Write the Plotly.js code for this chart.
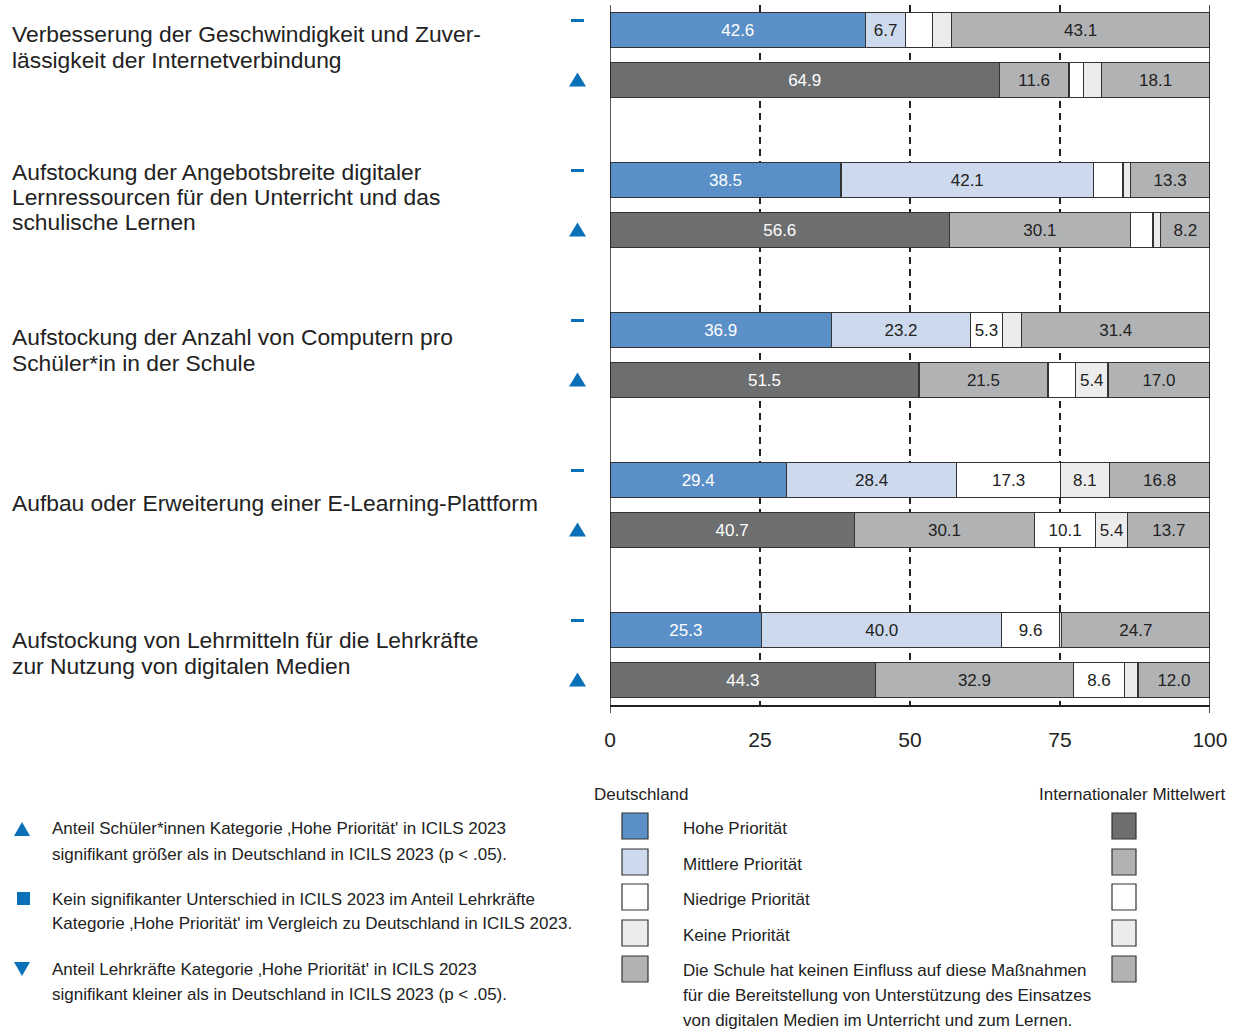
<!DOCTYPE html>
<html><head><meta charset="utf-8">
<script src="https://cdn.plot.ly/plotly-3.0.1.min.js"></script>
<style>html,body{margin:0;padding:0;background:#fff}#chart{width:1242px;height:1029px}</style>
</head><body><div id="chart"></div>
<script>
// ---------- DATA ----------
const topics = [
  ["Verbesserung der Geschwindigkeit und Zuver-", "lässigkeit der Internetverbindung"],
  ["Aufstockung der Angebotsbreite digitaler", "Lernressourcen für den Unterricht und das", "schulische Lernen"],
  ["Aufstockung der Anzahl von Computern pro", "Schüler*in in der Schule"],
  ["Aufbau oder Erweiterung einer E-Learning-Plattform"],
  ["Aufstockung von Lehrmitteln für die Lehrkräfte", "zur Nutzung von digitalen Medien"]
];
const categoryNames = ["Hohe Priorität", "Mittlere Priorität", "Niedrige Priorität", "Keine Priorität",
  ["Die Schule hat keinen Einfluss auf diese Maßnahmen", "für die Bereitstellung von Unterstützung des Einsatzes", "von digitalen Medien im Unterricht und zum Lernen."]];
const groupNames = ["Deutschland", "Internationaler Mittelwert"];

const deHohe         = [42.6, 38.5, 36.9, 29.4, 25.3];
const deMittel       = [6.7, 42.1, 23.2, 28.4, 40.0];
const deNiedrig      = [4.5, 4.9, 5.3, 17.3, 9.6];
const deKeine        = [3.1, 1.2, 3.2, 8.1, 0.4];
const deKeinEinfluss = [43.1, 13.3, 31.4, 16.8, 24.7];

const intHohe         = [64.9, 56.6, 51.5, 40.7, 44.3];
const intMittel       = [11.6, 30.1, 21.5, 30.1, 32.9];
const intNiedrig      = [2.4, 3.8, 4.6, 10.1, 8.6];
const intKeine        = [3.0, 1.3, 5.4, 5.4, 2.2];
const intKeinEinfluss = [18.1, 8.2, 17.0, 13.7, 12.0];

// significance of international mean vs Germany: "up", "same", "down"
const intSignif = ["up", "up", "up", "up", "up"];

const tickVals = [0, 25, 50, 75, 100];

const notes = [
  ["Anteil Schüler*innen Kategorie ‚Hohe Priorität' in ICILS 2023", "signifikant größer als in Deutschland in ICILS 2023 (p < .05)."],
  ["Kein signifikanter Unterschied in ICILS 2023 im Anteil Lehrkräfte", "Kategorie ‚Hohe Priorität' im Vergleich zu Deutschland in ICILS 2023."],
  ["Anteil Lehrkräfte Kategorie ‚Hohe Priorität' in ICILS 2023", "signifikant kleiner als in Deutschland in ICILS 2023 (p < .05)."]
];

// ---------- STYLE ----------
const FONT = "Liberation Sans, Arial, sans-serif";
const TXT = "#222222";
const BLUE = "#0a71b9";
const deColors  = ["#5b8fc8", "#cdd9ed", "#ffffff", "#ececec", "#b1b2b4"];
const intColors = ["#6d6e70", "#b1b2b4", "#ffffff", "#ececec", "#b1b2b4"];
const valColors = ["#ffffff", TXT, TXT, TXT, TXT];

const deSeries  = [deHohe, deMittel, deNiedrig, deKeine, deKeinEinfluss];
const intSeries = [intHohe, intMittel, intNiedrig, intKeine, intKeinEinfluss];

const deSlots  = topics.map((_, i) => 3 * i);
const intSlots = topics.map((_, i) => 3 * i + 1);

const W = 1242, H = 1029, PL = 610, PR = 1210, PT = 5, PB = 705;
const SLOT = 50; // pixels per slot
const px = v => (v - PL) / (PR - PL);
const py = v => (PB - v) / (PB - PT);

const fmt = arr => arr.map(v => v >= 5 ? v.toFixed(1) : "");

const traces = [];
for (let k = 0; k < 5; k++) {
  [[deSeries[k], deSlots, deColors[k]], [intSeries[k], intSlots, intColors[k]]].forEach(([vals, slots, col]) => {
    traces.push({
      type: "bar", orientation: "h",
      x: vals, y: slots,
      width: 0.7,
      marker: {color: col, line: {color: "#333333", width: 1.2}},
      text: fmt(vals),
      textposition: "inside", insidetextanchor: "middle", textangle: 0,
      constraintext: "none",
      textfont: {family: FONT, size: 17, color: valColors[k]},
      hoverinfo: "skip", showlegend: false, cliponaxis: false
    });
  });
}

const annotations = [];
const shapes = [];

// significance markers left of bars
deSlots.forEach(s => shapes.push({
  type: "line", xref: "paper", yref: "y", x0: px(571), x1: px(584), y0: s - 9.5 / SLOT, y1: s - 9.5 / SLOT,
  line: {color: BLUE, width: 3}
}));
intSlots.forEach((s, i) => {
  const sig = intSignif[i];
  let path;
  const L = px(569), R = px(586), C = px(577.5), T = s - 7.5 / SLOT, B = s + 6.5 / SLOT;
  if (sig === "up") path = `M${L},${B} L${R},${B} L${C},${T} Z`;
  else if (sig === "down") path = `M${L},${T} L${R},${T} L${C},${B} Z`;
  else path = `M${px(571)},${T} L${px(584)},${T} L${px(584)},${B} L${px(571)},${B} Z`;
  shapes.push({type: "path", xref: "paper", yref: "y", path: path, fillcolor: BLUE, line: {width: 0}});
});

// topic labels (vertical fine-tuning of each text block, in pixels)
const labelShift = [-8, -8, -5, -2, -2];
topics.forEach((lines, i) => {
  lines.forEach((ln, k) => {
    const off = labelShift[i] + (k - (lines.length - 1) / 2) * 25.3;
    annotations.push({
      xref: "paper", yref: "y", x: px(10), y: 3 * i + 0.5 + off / SLOT,
      xanchor: "left", yanchor: "middle", showarrow: false, align: "left",
      text: ln, font: {family: FONT, size: 22.8, color: TXT}
    });
  });
});

// frame lines at 0 and 100
[0, 100].forEach(v => shapes.push({
  type: "line", xref: "x", yref: "paper", x0: v, x1: v, y0: 1, y1: py(713),
  line: {color: "#222222", width: 1.5}
}));

// legend headers
annotations.push({xref: "paper", yref: "paper", x: px(592), y: py(794), xanchor: "left", yanchor: "middle",
  showarrow: false, text: groupNames[0], font: {family: FONT, size: 17, color: TXT}});
annotations.push({xref: "paper", yref: "paper", x: px(1227), y: py(794), xanchor: "right", yanchor: "middle",
  showarrow: false, text: groupNames[1], font: {family: FONT, size: 17, color: TXT}});

// legend swatches + texts
const swTop = [813, 849, 884, 920, 956];
categoryNames.forEach((nm, k) => {
  const t = swTop[k];
  shapes.push({type: "rect", xref: "paper", yref: "paper", x0: px(622), x1: px(648), y0: py(t), y1: py(t + 26),
    fillcolor: deColors[k], line: {color: "#333333", width: 1.2}});
  shapes.push({type: "rect", xref: "paper", yref: "paper", x0: px(1112), x1: px(1136), y0: py(t), y1: py(t + 26),
    fillcolor: intColors[k], line: {color: "#333333", width: 1.2}});
  const lines = Array.isArray(nm) ? nm : [nm];
  lines.forEach((ln, j) => annotations.push({
    xref: "paper", yref: "paper", x: px(681), y: py(t + 15 + j * 24.8), xanchor: "left", yanchor: "middle",
    showarrow: false, text: ln, font: {family: FONT, size: 17, color: TXT}
  }));
});

// notes bottom-left
const noteTop = [829, 899, 969];
notes.forEach((lines, k) => {
  lines.forEach((ln, j) => annotations.push({
    xref: "paper", yref: "paper", x: px(50), y: py(noteTop[k] + j * 25), xanchor: "left", yanchor: "middle",
    showarrow: false, text: ln, font: {family: FONT, size: 17, color: TXT}
  }));
});
const P = (x, y) => px(x) + "," + py(y);
shapes.push({type: "path", xref: "paper", yref: "paper", path: "M" + P(14, 836) + " L" + P(30, 836) + " L" + P(22, 822) + " Z",
  fillcolor: BLUE, line: {width: 0}});
shapes.push({type: "rect", xref: "paper", yref: "paper", x0: px(17), x1: px(30), y0: py(892), y1: py(905),
  fillcolor: BLUE, line: {width: 0}});
shapes.push({type: "path", xref: "paper", yref: "paper", path: "M" + P(14, 962) + " L" + P(30, 962) + " L" + P(22, 976) + " Z",
  fillcolor: BLUE, line: {width: 0}});

const layout = {
  width: W, height: H,
  margin: {l: PL, r: W - PR, t: PT, b: H - PB, pad: 0},
  paper_bgcolor: "#ffffff", plot_bgcolor: "#ffffff",
  barmode: "stack", bargap: 0.3,
  showlegend: false,
  xaxis: {
    range: [0, 100.01], tickvals: tickVals, ticktext: tickVals.map(String),
    showgrid: true, gridcolor: "#222222", gridwidth: 1.2, griddash: "7px,5px",
    zeroline: false, showline: true, linecolor: "#222222", linewidth: 1.5,
    ticks: "outside", ticklen: 15, tickcolor: "rgba(0,0,0,0)",
    tickfont: {family: FONT, size: 21, color: TXT}, fixedrange: true
  },
  yaxis: {
    range: [13.5, -0.5], showticklabels: false, showgrid: false, zeroline: false,
    showline: false, ticks: "", fixedrange: true
  },
  annotations: annotations,
  shapes: shapes
};

Plotly.newPlot("chart", traces, layout, {displayModeBar: false, staticPlot: true});
</script>
</body></html>
